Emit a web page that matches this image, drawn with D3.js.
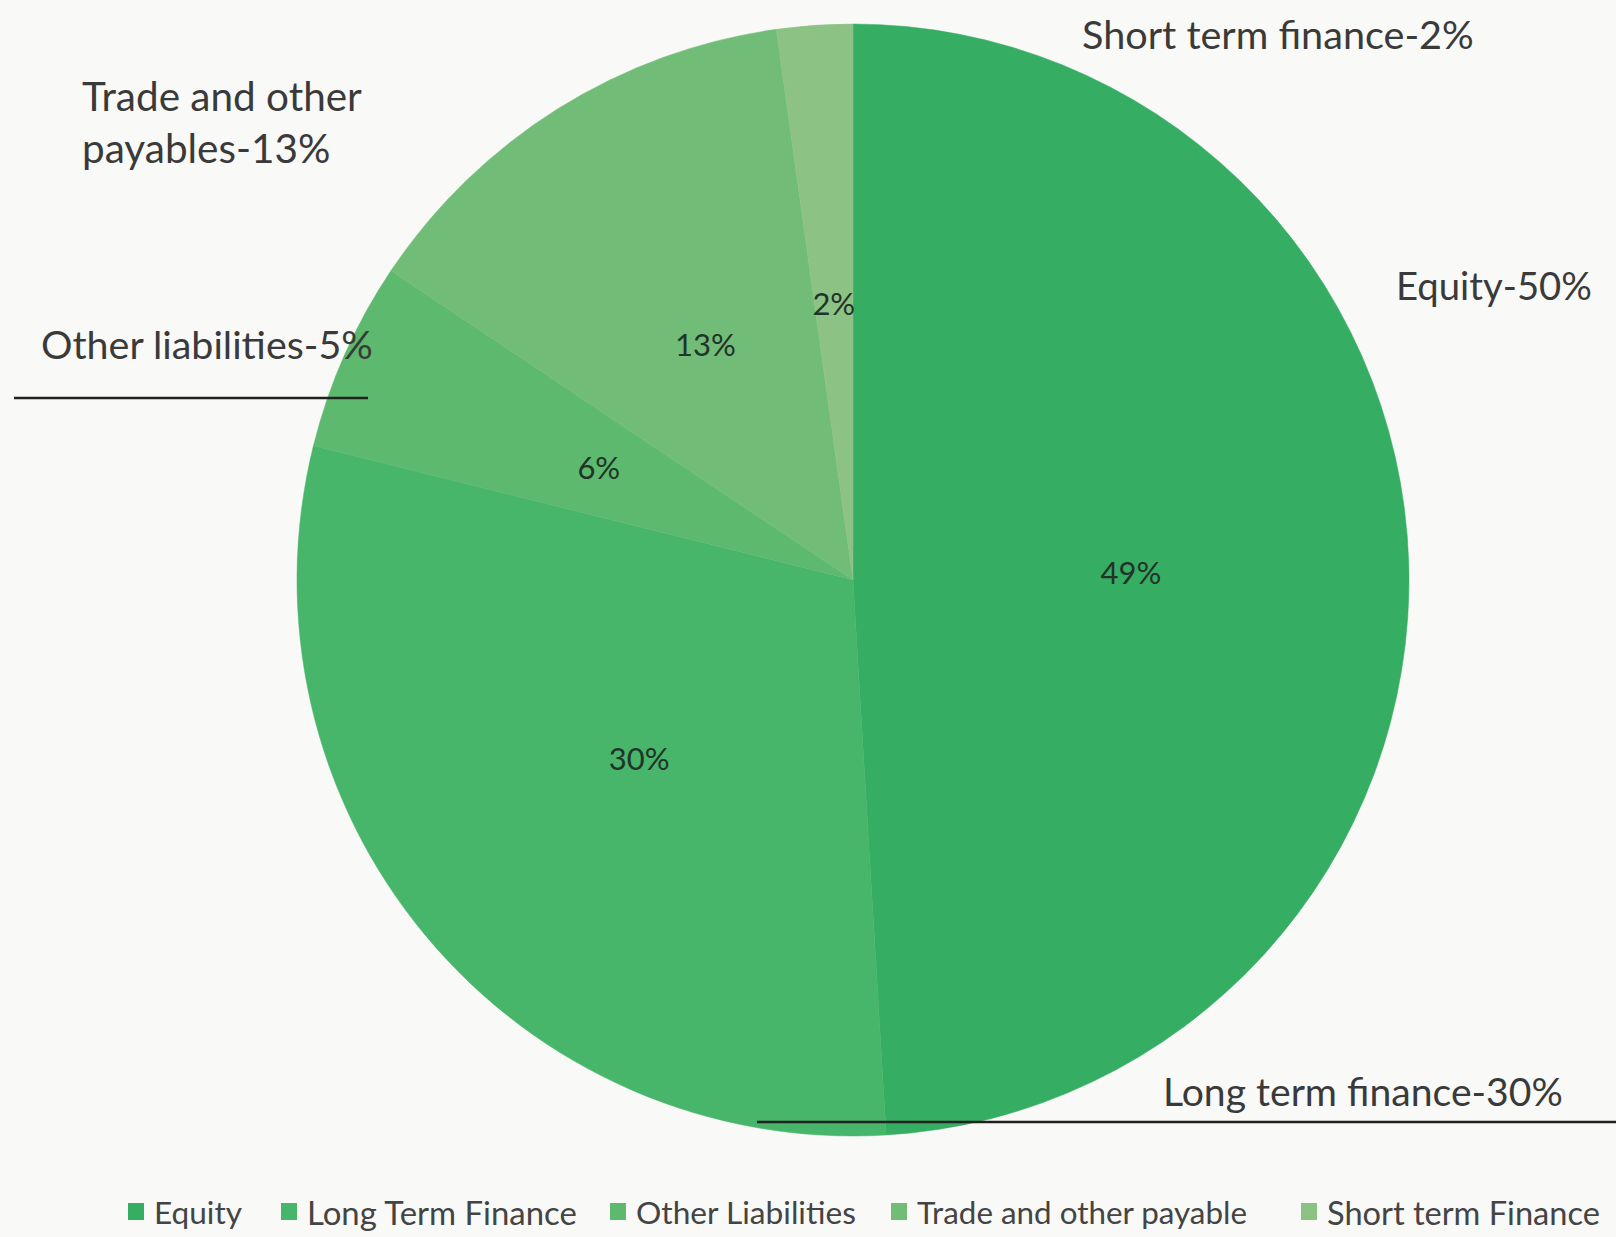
<!DOCTYPE html>
<html><head><meta charset="utf-8">
<script src="https://cdn.jsdelivr.net/npm/d3@7"></script>
<style>body{margin:0;background:#f9f9f8;} svg{display:block;}</style>
</head><body>
<svg id="c" width="1616" height="1237"></svg>
<script>
const categories = ["Equity","Long Term Finance","Other Liabilities","Trade and other payable","Short term Finance"];
const values = [49, 29.8, 5.5, 13.4, 2.2];
const valueLabels = ["49%","30%","6%","13%","2%"];
const colors = ["#35ad62","#47b56a","#5cb96e","#71bd77","#8dc285"];
const outerLabels = [
  {lines:["Equity-50%"], x:1396, y:285, w:196},
  {lines:["Long term finance-30%"], x:1163, y:1090, w:400},
  {lines:["Other liabilities-5%"], x:41, y:343, w:332},
  {lines:["Trade and other","payables-13%"], x:82, y:95, w:280},
  {lines:["Short term finance-2%"], x:1082, y:33, w:392}
];

const svg = d3.select("#c");
const cx = 853, cy = 580, r = 556;
const FONT = "Lato, 'Open Sans', sans-serif";

const pie = d3.pie().sort(null).value(d => d)(values);
const arc = d3.arc().innerRadius(0).outerRadius(r);
const labelArc = d3.arc().innerRadius(r*0.5).outerRadius(r*0.5);
const g = svg.append("g").attr("transform", `translate(${cx},${cy})`);
g.selectAll("path").data(pie).join("path")
  .attr("d", arc).attr("fill", (d,i) => colors[i])
  .attr("stroke", (d,i)=>colors[i]).attr("stroke-width", 0.5);
g.selectAll("text.v").data(pie).join("text").attr("class","v")
  .attr("transform", d => `translate(${labelArc.centroid(d)})`)
  .attr("text-anchor","middle").attr("dominant-baseline","central")
  .attr("font-family", FONT).attr("font-size", 31).attr("fill","#22332a")
  .text((d,i) => valueLabels[i]);

// outer annotation labels
outerLabels.forEach(L => {
  const t = svg.append("text").attr("font-family", FONT).attr("fill","#3a3a3a").attr("font-size", 34);
  L.lines.forEach((ln, k) => {
    t.append("tspan").attr("x", L.x).attr("y", L.y + k*52).attr("dominant-baseline","central").text(ln);
  });
  const w = d3.max(t.selectAll("tspan").nodes(), n => n.getComputedTextLength());
  t.attr("font-size", 34 * L.w / w);
});

// guide lines
svg.append("line").attr("x1",14).attr("x2",368).attr("y1",398).attr("y2",398).attr("stroke","#222").attr("stroke-width",2.5);
svg.append("line").attr("x1",757).attr("x2",1616).attr("y1",1122).attr("y2",1122).attr("stroke","#222").attr("stroke-width",2.5);

// legend
const legendX = [128, 281, 610, 891, 1301];
const legendW = [88, 270, 220, 330, 273];
const lg = svg.append("g");
categories.forEach((c, i) => {
  lg.append("rect").attr("x", legendX[i]).attr("y", 1203).attr("width",16).attr("height",17).attr("fill", colors[i]);
  const t = lg.append("text").attr("x", legendX[i] + 26).attr("y", 1212).attr("dominant-baseline","central")
    .attr("font-family", FONT).attr("font-size", 28).attr("fill","#444").text(c);
  const w = t.node().getComputedTextLength();
  t.attr("font-size", 28 * legendW[i] / w);
});
</script>
</body></html>
